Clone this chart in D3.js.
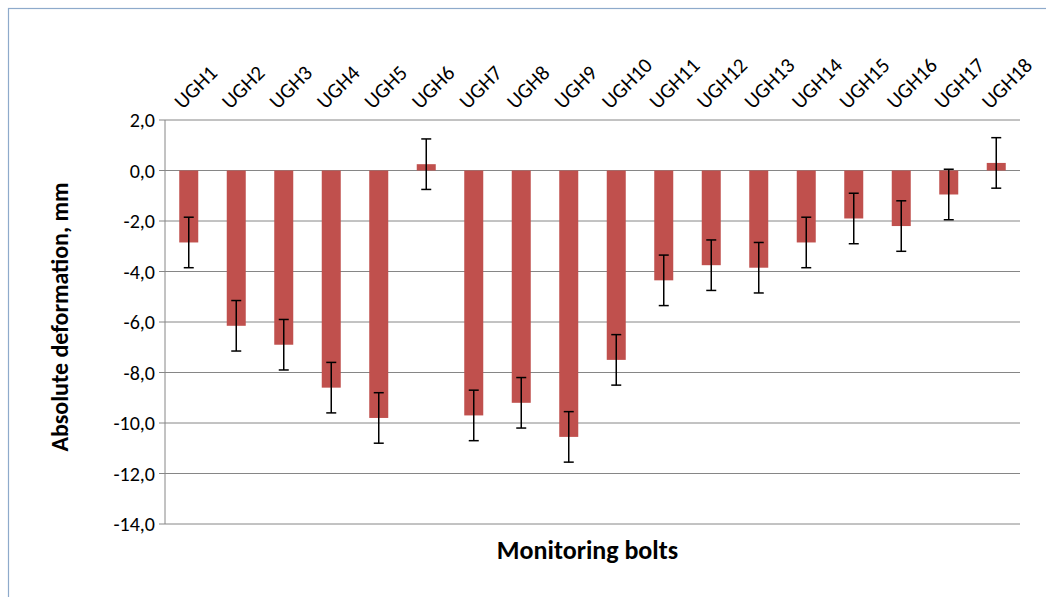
<!DOCTYPE html>
<html>
<head>
<meta charset="utf-8">
<script src="https://cdn.jsdelivr.net/npm/d3@7"></script>
<style>
body { margin: 0; background: #fff; }
svg { font-family: Carlito, "Open Sans", "Liberation Sans", Arial, sans-serif; }
</style>
</head>
<body>
<script>
var categories = ["UGH1","UGH2","UGH3","UGH4","UGH5","UGH6","UGH7","UGH8","UGH9","UGH10","UGH11","UGH12","UGH13","UGH14","UGH15","UGH16","UGH17","UGH18"];
var values = [-2.85,-6.15,-6.9,-8.6,-9.8,0.25,-9.7,-9.2,-10.55,-7.5,-4.35,-3.75,-3.85,-2.85,-1.9,-2.2,-0.95,0.3];
var errors = [1,1,1,1,1,1,1,1,1,1,1,1,1,1,1,1,1,1];
var yTicks = [2,0,-2,-4,-6,-8,-10,-12,-14];

var W = 1046, H = 597;
var m = { left: 165, right: 1020, top: 120, bottom: 524 };

var svg = d3.select("body").append("svg").attr("width", W).attr("height", H);

svg.append("rect").attr("x", 8.5).attr("y", 8.5).attr("width", W + 20).attr("height", H + 20)
  .attr("fill", "#fff").attr("stroke", "#8eaacb").attr("stroke-width", 1.2);

var x = d3.scaleBand().domain(categories).range([m.left, m.right]).paddingInner(0.6).paddingOuter(0.3);
var y = d3.scaleLinear().domain([-14, 2]).range([m.bottom, m.top]);

// gridlines
svg.selectAll(".grid").data(yTicks).enter().append("line")
  .attr("x1", m.left).attr("x2", m.right)
  .attr("y1", function(d) { return y(d); }).attr("y2", function(d) { return y(d); })
  .attr("stroke", "#868686").attr("stroke-width", 1);

// y axis
svg.append("line").attr("x1", m.left).attr("x2", m.left).attr("y1", m.top).attr("y2", m.bottom)
  .attr("stroke", "#868686");
svg.selectAll(".tick").data(yTicks).enter().append("line")
  .attr("x1", m.left - 6).attr("x2", m.left)
  .attr("y1", function(d) { return y(d); }).attr("y2", function(d) { return y(d); })
  .attr("stroke", "#868686");
svg.selectAll(".ylab").data(yTicks).enter().append("text")
  .attr("x", m.left - 10).attr("y", function(d) { return y(d); })
  .attr("dy", "0.35em").attr("text-anchor", "end").attr("font-size", 20).attr("fill", "#000")
  .text(function(d) { return d3.format(".1f")(d).replace(".", ",").replace("−", "-"); });

// bars
svg.selectAll(".bar").data(values).enter().append("rect")
  .attr("x", function(d, i) { return x(categories[i]); })
  .attr("width", x.bandwidth())
  .attr("y", function(d) { return y(Math.max(0, d)); })
  .attr("height", function(d) { return Math.abs(y(d) - y(0)); })
  .attr("fill", "#c0504d");

// error bars
var eb = svg.selectAll(".err").data(values).enter().append("g")
  .attr("transform", function(d, i) { return "translate(" + (x(categories[i]) + x.bandwidth() / 2) + ",0)"; });
eb.append("line").attr("y1", function(d, i) { return y(d + errors[i]); }).attr("y2", function(d, i) { return y(d - errors[i]); })
  .attr("stroke", "#000").attr("stroke-width", 1.5);
eb.append("line").attr("x1", -5).attr("x2", 5).attr("y1", function(d, i) { return y(d + errors[i]); }).attr("y2", function(d, i) { return y(d + errors[i]); })
  .attr("stroke", "#000").attr("stroke-width", 1.5);
eb.append("line").attr("x1", -5).attr("x2", 5).attr("y1", function(d, i) { return y(d - errors[i]); }).attr("y2", function(d, i) { return y(d - errors[i]); })
  .attr("stroke", "#000").attr("stroke-width", 1.5);

// category labels on top
svg.selectAll(".xlab").data(categories).enter().append("g")
  .attr("transform", function(d) { return "translate(" + (x(d) + x.bandwidth() / 2 - 6) + ",110)"; })
  .append("g").attr("transform", "rotate(-45)")
  .append("text").attr("font-size", 21).attr("fill", "#000").text(function(d) { return d; });

// titles
svg.append("text").attr("x", (m.left + m.right) / 2 - 5).attr("y", 559).attr("text-anchor", "middle")
  .attr("font-size", 26).attr("font-weight", "bold").text("Monitoring bolts");
svg.append("text").attr("transform", "translate(68," + ((m.top + m.bottom) / 2 - 5) + ") rotate(-90)")
  .attr("text-anchor", "middle").attr("font-size", 24).attr("font-weight", "bold").text("Absolute deformation, mm");
</script>
</body>
</html>
